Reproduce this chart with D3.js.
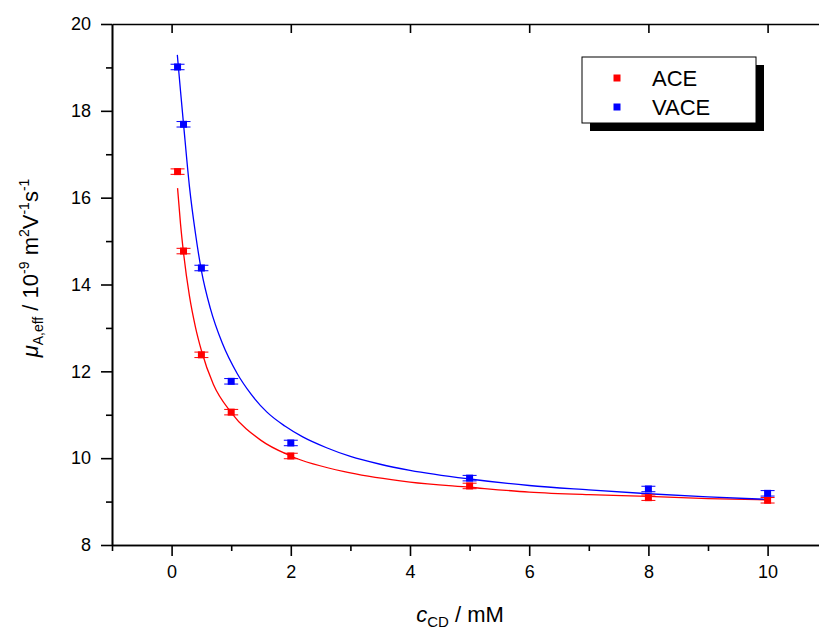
<!DOCTYPE html>
<html>
<head>
<meta charset="utf-8">
<script src="https://cdn.jsdelivr.net/npm/d3@7"></script>
<style>
  body { margin: 0; background: #fff; }
  svg { display: block; font-family: "Liberation Sans", Arial, sans-serif; }
</style>
</head>
<body>
<div id="chart"></div>
<script>
// measured points (c_CD in mM, mobility in 1e-9 m2/Vs)
const concentrations = [0.1, 0.2, 0.5, 1, 2, 5, 8, 10];
const aceMobility = [16.60, 14.77, 12.38, 11.06, 10.05, 9.36, 9.09, 9.03];
const vaceMobility = [19.01, 17.69, 14.38, 11.77, 10.35, 9.54, 9.29, 9.19];
const aceError = [0.04, 0.04, 0.04, 0.04, 0.04, 0.04, 0.04, 0.04];
const vaceError = [0.04, 0.04, 0.04, 0.04, 0.04, 0.04, 0.04, 0.04];

// fitted curves
const aceFitC = [0.1, 0.15, 0.2, 0.3, 0.4, 0.5, 0.7, 1, 1.5, 2, 3, 4, 5, 6, 7, 8, 9, 10];
const aceFitMu = [16.22, 15.39, 14.73, 13.73, 13.02, 12.48, 11.70, 11.05, 10.41, 10.05,
                  9.66, 9.45, 9.33, 9.22, 9.16, 9.12, 9.07, 9.04];
const vaceFitC = [0.096, 0.15, 0.2, 0.3, 0.4, 0.5, 0.65, 0.85, 1.1, 1.33, 1.6, 1.9, 2.2,
                  2.6, 3, 3.5, 4, 5, 6, 7, 8, 9, 10];
const vaceFitMu = [19.29, 18.45, 17.70, 16.25, 15.18, 14.32, 13.45, 12.65, 11.95, 11.48,
                   11.06, 10.74, 10.49, 10.24, 10.04, 9.86, 9.72, 9.52, 9.37, 9.27, 9.18, 9.11, 9.05];

const xMajor = [0, 2, 4, 6, 8, 10];
const xMinor = [-1, 1, 3, 5, 7, 9, 11];
const yMajor = [8, 10, 12, 14, 16, 18, 20];
const yMinor = [9, 11, 13, 15, 17, 19];

const seriesNames = ["ACE", "VACE"];
const seriesColors = ["#ff0000", "#0000ff"];

const width = 819, height = 634;

const svg = d3.select("#chart").append("svg")
    .attr("width", width)
    .attr("height", height);

const x = d3.scaleLinear().domain([-1, 11]).range([112, 827.2]);
const y = d3.scaleLinear().domain([8, 20]).range([545, 24]);

// axes
function styleAxis(g) {
    g.selectAll("path, line").attr("stroke", "#000").attr("stroke-width", 1.6);
    g.selectAll("text").attr("fill", "#000").style("font-size", "18px").style("font-family", "Liberation Sans, Arial, sans-serif");
}

svg.append("g")
    .attr("transform", `translate(0,${y(8)})`)
    .call(d3.axisBottom(x).tickValues(xMajor).tickSize(11).tickSizeOuter(0).tickPadding(9).tickFormat(d3.format("d")))
    .call(styleAxis);
svg.append("g")
    .attr("transform", `translate(0,${y(8)})`)
    .call(d3.axisBottom(x).tickValues(xMinor).tickSize(6).tickSizeOuter(0).tickFormat(""))
    .call(styleAxis);

svg.append("g")
    .attr("transform", `translate(0,${y(20)})`)
    .call(d3.axisTop(x).tickValues(xMajor).tickSize(-9).tickSizeOuter(0).tickFormat(""))
    .call(styleAxis);

svg.append("g")
    .attr("transform", `translate(${x(-1)},0)`)
    .call(d3.axisLeft(y).tickValues(yMajor).tickSize(11).tickSizeOuter(0).tickPadding(10).tickFormat(d3.format("d")))
    .call(styleAxis);
svg.append("g")
    .attr("transform", `translate(${x(-1)},0)`)
    .call(d3.axisLeft(y).tickValues(yMinor).tickSize(6).tickSizeOuter(0).tickFormat(""))
    .call(styleAxis);

// fit lines
const line = d3.line()
    .x(d => x(d[0]))
    .y(d => y(d[1]))
    .curve(d3.curveMonotoneX);

const fits = [
    d3.zip(aceFitC, aceFitMu),
    d3.zip(vaceFitC, vaceFitMu)
];

svg.append("g")
    .selectAll("path")
    .data(fits)
    .join("path")
    .attr("fill", "none")
    .attr("stroke", (d, i) => seriesColors[i])
    .attr("stroke-width", 1.3)
    .attr("d", line);

// points with small error bars
const points = [
    concentrations.map((c, i) => ({c: c, mu: aceMobility[i], err: aceError[i]})),
    concentrations.map((c, i) => ({c: c, mu: vaceMobility[i], err: vaceError[i]}))
];

const series = svg.append("g")
    .selectAll("g")
    .data(points)
    .join("g")
    .attr("fill", (d, i) => seriesColors[i])
    .attr("stroke", (d, i) => seriesColors[i]);

const pt = series.selectAll("g")
    .data(d => d)
    .join("g")
    .attr("transform", d => `translate(${x(d.c)},${y(d.mu)})`);

pt.append("line")
    .attr("x1", 0).attr("x2", 0)
    .attr("y1", d => y(d.mu + d.err) - y(d.mu))
    .attr("y2", d => y(d.mu - d.err) - y(d.mu))
    .attr("stroke-width", 1);
pt.append("line")
    .attr("x1", -7).attr("x2", 7)
    .attr("y1", d => y(d.mu + d.err) - y(d.mu) - 1)
    .attr("y2", d => y(d.mu + d.err) - y(d.mu) - 1)
    .attr("stroke-width", 1);
pt.append("line")
    .attr("x1", -7).attr("x2", 7)
    .attr("y1", d => y(d.mu - d.err) - y(d.mu) + 1)
    .attr("y2", d => y(d.mu - d.err) - y(d.mu) + 1)
    .attr("stroke-width", 1);
pt.append("rect")
    .attr("x", -3.5).attr("y", -3.5)
    .attr("width", 7).attr("height", 7)
    .attr("stroke", "none");

// legend
const legend = svg.append("g").attr("transform", "translate(582,57)");
legend.append("rect")
    .attr("x", 8).attr("y", 8)
    .attr("width", 174).attr("height", 66)
    .attr("fill", "#000");
legend.append("rect")
    .attr("width", 174).attr("height", 66)
    .attr("fill", "#fff")
    .attr("stroke", "#000")
    .attr("stroke-width", 1);

const item = legend.selectAll("g")
    .data(seriesNames)
    .join("g")
    .attr("transform", (d, i) => `translate(0,${21 + i * 29})`);
item.append("rect")
    .attr("x", 31.5).attr("y", -3.5)
    .attr("width", 7).attr("height", 7)
    .attr("fill", (d, i) => seriesColors[i]);
item.append("text")
    .attr("x", 70)
    .attr("y", 8)
    .style("font-size", "22px")
    .text(d => d);

// axis titles
const xt = svg.append("text")
    .attr("x", 460)
    .attr("y", 622)
    .attr("text-anchor", "middle")
    .style("font-size", "22px");
xt.append("tspan").style("font-style", "italic").text("c");
xt.append("tspan").attr("dy", 5).style("font-size", "15px").text("CD");
xt.append("tspan").attr("dy", -5).text(" / mM");

const yt = svg.append("text")
    .attr("transform", "translate(38,268) rotate(-90)")
    .attr("text-anchor", "middle")
    .style("font-size", "22px");
yt.append("tspan").style("font-style", "italic").text("μ");
yt.append("tspan").attr("dy", 5).style("font-size", "14px").text("A,eff");
yt.append("tspan").attr("dy", -5).text(" / 10");
yt.append("tspan").attr("dy", -9).style("font-size", "14px").text("-9");
yt.append("tspan").attr("dy", 9).text(" m");
yt.append("tspan").attr("dy", -9).style("font-size", "14px").text("2");
yt.append("tspan").attr("dy", 9).text("V");
yt.append("tspan").attr("dy", -9).style("font-size", "14px").text("-1");
yt.append("tspan").attr("dy", 9).text("s");
yt.append("tspan").attr("dy", -9).style("font-size", "14px").text("-1");
</script>
</body>
</html>
